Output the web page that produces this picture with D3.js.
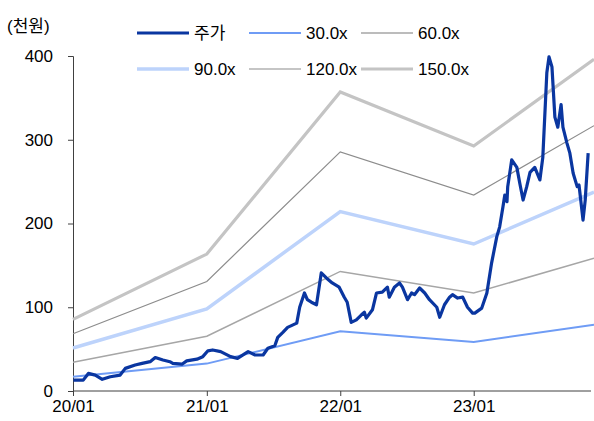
<!DOCTYPE html>
<html>
<head>
<meta charset="utf-8">
<script src="https://cdn.jsdelivr.net/npm/d3@7"></script>
<style>
  body { margin: 0; background: #fff; }
  text { font-family: "Liberation Sans Narrow", "Arial Narrow", "Liberation Sans", "Noto Sans CJK KR", sans-serif; }
</style>
</head>
<body>
<svg id="chart" width="594" height="421"></svg>
<script>
// band anchor dates and band values (천원)
var bandDates = ["2020-01-01", "2021-01-01", "2022-01-01", "2023-01-01", "2023-11-26"];
var band30  = [17.1, 32.7, 71.4, 58.5, 79.2];
var band60  = [34.2, 65.4, 142.8, 117.0, 158.4];
var band90  = [51.3, 98.1, 214.2, 175.5, 237.6];
var band120 = [68.4, 130.8, 285.6, 234.0, 316.8];
var band150 = [85.5, 163.5, 357.0, 292.5, 396.0];

// share price
var priceDates = [
  "2020-01-02","2020-01-29","2020-02-12","2020-03-02","2020-03-21","2020-04-12","2020-05-09","2020-05-23",
  "2020-06-19","2020-07-08","2020-07-30","2020-08-13","2020-09-03","2020-09-22","2020-09-30","2020-10-25",
  "2020-11-07","2020-12-05","2020-12-21","2021-01-04","2021-01-17","2021-02-08","2021-03-07","2021-03-26",
  "2021-04-24","2021-05-13","2021-06-04","2021-06-17","2021-07-06","2021-07-14","2021-07-28","2021-08-10",
  "2021-09-04","2021-09-12","2021-09-25","2021-10-03","2021-10-14","2021-10-28","2021-11-10","2021-11-24",
  "2021-12-10","2021-12-29","2022-01-12","2022-01-20","2022-01-31","2022-02-14","2022-02-28","2022-03-08",
  "2022-03-13","2022-03-30","2022-04-10","2022-04-26","2022-05-10","2022-05-15","2022-05-29","2022-06-12",
  "2022-06-20","2022-07-04","2022-07-15","2022-07-23","2022-08-06","2022-08-20","2022-09-02","2022-09-22",
  "2022-09-30","2022-10-13","2022-10-27","2022-11-04","2022-11-18","2022-12-02","2022-12-15","2022-12-29",
  "2023-01-04","2023-01-23","2023-02-06","2023-02-19","2023-03-05","2023-03-13","2023-03-22","2023-03-27",
  "2023-04-02","2023-04-04","2023-04-15","2023-04-29","2023-05-07","2023-05-16","2023-05-26","2023-06-04",
  "2023-06-17","2023-07-01","2023-07-09","2023-07-20","2023-07-26","2023-08-03","2023-08-11","2023-08-19",
  "2023-08-28","2023-09-02","2023-09-13","2023-09-21","2023-09-30","2023-10-11","2023-10-16","2023-10-27",
  "2023-11-02","2023-11-10"
];
var priceValues = [
  13, 13, 21, 19, 14, 17, 19, 27,
  31, 33, 35, 40, 37, 35, 33, 32,
  36, 38, 41, 48, 49, 47, 41, 39,
  47, 43, 43, 51, 54, 64, 70, 76,
  81, 100, 117, 109, 106, 103, 141, 135,
  129, 124, 112, 106, 82, 85, 91, 94,
  87, 97, 117, 118, 124, 112, 124, 129,
  124, 109, 117, 115, 123, 117, 109, 100,
  88, 103, 112, 115, 111, 112, 100, 93,
  93, 99, 117, 153, 184, 196, 220, 234,
  226, 244, 276, 267, 248, 228, 244, 261,
  267, 252, 279, 380, 399, 387, 327, 315,
  342, 315, 296, 284, 260, 244, 246, 204,
  228, 284
];

var yTicks = [0, 100, 200, 300, 400];
var xTickDates = ["2020-01-01", "2021-01-01", "2022-01-01", "2023-01-01"];
var xTickLabels = ["20/01", "21/01", "22/01", "23/01"];

var svg = d3.select("#chart");
var parse = d3.timeParse("%Y-%m-%d");

var x = d3.scaleTime()
    .domain([parse(bandDates[0]), parse(bandDates[bandDates.length - 1])])
    .range([73, 594]);
var y = d3.scaleLinear().domain([0, 400]).range([391, 56]);

var series = [
  {name: "30.0x",  values: band30,  color: "#6f9cf5", width: 2},
  {name: "60.0x",  values: band60,  color: "#a6a6a6", width: 1.5},
  {name: "90.0x",  values: band90,  color: "#bdd3fb", width: 3.5},
  {name: "120.0x", values: band120, color: "#8c8c8c", width: 1.2},
  {name: "150.0x", values: band150, color: "#c4c4c4", width: 3.2}
];

var line = d3.line()
    .x(function(d) { return x(d[0]); })
    .y(function(d) { return y(d[1]); });

// axes
var yAxis = svg.append("g")
    .attr("transform", "translate(73,0)")
    .call(d3.axisLeft(y).tickValues(yTicks).tickSize(5).tickPadding(15));
var xAxis = svg.append("g")
    .attr("transform", "translate(0,391)")
    .call(d3.axisBottom(x)
      .tickValues(xTickDates.map(parse))
      .tickFormat(function(d, i) { return xTickLabels[i]; })
      .tickSize(5).tickPadding(4));
xAxis.select(".domain").attr("d", "M73,0H591");
[yAxis, xAxis].forEach(function(a) {
  a.select(".domain").attr("stroke", "#404040");
  a.selectAll(".tick line").attr("stroke", "#404040");
  a.selectAll("text").attr("fill", "#000").style("font-size", "17px");
});

// bands
series.forEach(function(s) {
  svg.append("path")
      .datum(bandDates.map(function(d, i) { return [parse(d), s.values[i]]; }))
      .attr("fill", "none")
      .attr("stroke", s.color)
      .attr("stroke-width", s.width)
      .attr("d", line);
});

// price
svg.append("path")
    .datum(priceDates.map(function(d, i) { return [parse(d), priceValues[i]]; }))
    .attr("fill", "none")
    .attr("stroke", "#0a36a0")
    .attr("stroke-width", 3.2)
    .attr("stroke-linejoin", "round")
    .attr("d", line);

// unit
svg.append("text")
    .attr("x", 7).attr("y", 32)
    .style("font-size", "17px")
    .text("(천원)");

// legend
var legendItems = [
  {name: "주가", color: "#0a36a0", width: 3.2},
  series[0], series[1], series[2], series[3], series[4]
];
var lg = svg.selectAll(".leg")
    .data(legendItems)
    .enter().append("g")
    .attr("class", "leg")
    .attr("transform", function(d, i) {
      return "translate(" + (137 + (i % 3) * 112) + "," + (i < 3 ? 33 : 69) + ")";
    });
lg.append("line")
    .attr("x1", 0).attr("x2", 52)
    .attr("stroke", function(d) { return d.color; })
    .attr("stroke-width", function(d) { return d.width; });
lg.append("text")
    .attr("x", 57).attr("dy", "0.36em")
    .style("font-size", "17px")
    .text(function(d) { return d.name; });
</script>
</body>
</html>
